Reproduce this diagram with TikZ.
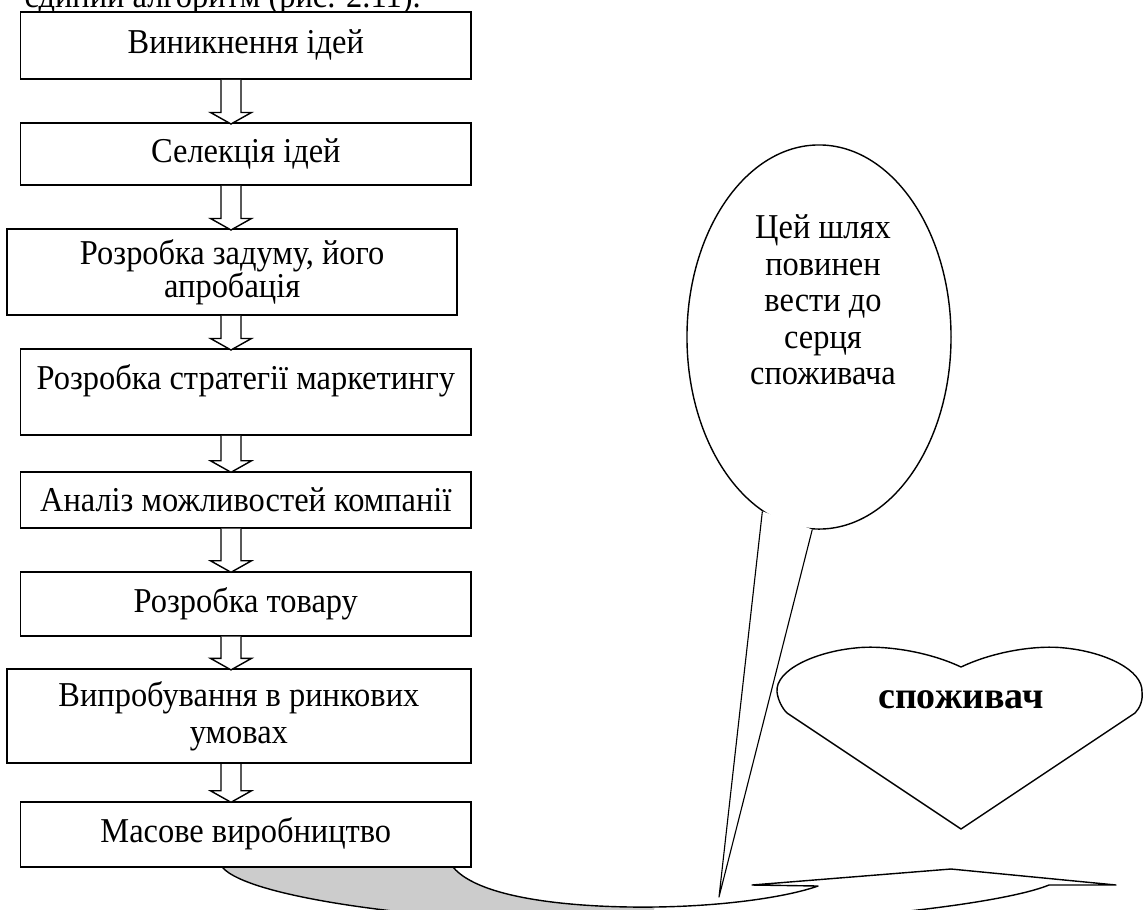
\documentclass[tikz,border=0pt]{standalone}
\usepackage{fontspec}
\setmainfont{Liberation Serif}[FakeStretch=0.93]
\newfontfamily\heartfont{Liberation Serif}
\usetikzlibrary{calc,shapes.geometric}

\begin{document}
\begin{tikzpicture}[x=0.025cm, y=-0.025cm,
      font=\fontsize{24.8}{26.6}\selectfont,
      stage/.style={draw, line width=1.3pt, fill=white, align=center,
                    inner sep=0pt, minimum width=11.26cm},
      blockarrow/.style={draw, fill=white, line width=1pt, to path={
          ($(\tikztostart.south -| ax)+(-10,0)$) -- ($(\tikztotarget.north -| ax)+(-10,-10)$)
          -- ++(-10.5,0) -- ($(\tikztotarget.north -| ax)+(0,1.5)$) -- ++(20.5,-11.5)
          -- ++(-10.5,0) -- ($(\tikztostart.south -| ax)+(10,0)$)}},
      bubble/.style={ellipse, draw, line width=1pt, fill=white, inner sep=0pt,
                     minimum width=6.6cm, minimum height=9.6cm},
      outline/.style={draw, line width=1pt, line join=round}]
    \useasboundingbox (0,0) rectangle (1143,909);
    \clip (0,0) rectangle (1143,909);
    \coordinate (ax) at (231,0);

    % text line above the figure, cut by the page edge
    \node[anchor=base east, inner sep=0pt] (intro) at (421,7) {єдиний алгоритм (рис. 2.11).};

    % curved arrow under the last stage
    \fill[gray!40] (222,867) .. controls (250,900) and (450,925) .. (650,925)
      -- (655,907) .. controls (580,908) and (480,900) .. (453,867) -- cycle;
    \fill[white] (655,907) .. controls (730,906) and (790,896) .. (818,886)
      -- (752,885) -- (951,869) -- (1116,885) -- (1049,885)
      .. controls (1000,905) and (820,925) .. (650,925) -- cycle;
    \draw[outline] (222,867) .. controls (250,900) and (450,925) .. (650,925)
      .. controls (820,925) and (1000,905) .. (1049,885) -- (1116,885)
      -- (951,869) -- (752,885) -- (818,886)
      .. controls (790,896) and (730,906) .. (655,907)
      .. controls (580,908) and (480,900) .. (453,867);

    % stages
    \node[stage, minimum height=1.68cm] (idea) at (245.8,45.3) {Виникнення ідей};
    \node[stage, minimum height=1.54cm] (select) at (245.8,154.2) {Селекція ідей};
    \node[stage, minimum height=2.14cm, minimum width=11.24cm,
          font=\fontsize{24.8}{23.1}\selectfont] (concept) at (232.2,272.2) {Розробка задуму, його\\апробація};
    \node[stage, minimum height=2.14cm, text depth=0.75cm] (strategy) at (245.8,392.2) {Розробка стратегії маркетингу};
    \node[stage, minimum height=1.4cm] (analysis) at (245.8,499.7) {Аналіз можливостей компанії};
    \node[stage, minimum height=1.6cm] (product) at (245.8,603.7) {Розробка товару};
    \node[stage, minimum height=2.35cm, minimum width=11.61cm] (test) at (238.9,716.3) {Випробування в ринкових\\умовах};
    \node[stage, minimum height=1.625cm] (mass) at (245.8,834.2) {Масове виробництво};

    \draw[blockarrow] (idea) to (select);
    \draw[blockarrow] (select) to (concept);
    \draw[blockarrow] (concept) to (strategy);
    \draw[blockarrow] (strategy) to (analysis);
    \draw[blockarrow] (analysis) to (product);
    \draw[blockarrow] (product) to (test);
    \draw[blockarrow] (test) to (mass);

    % speech bubble
    \node[bubble] (bubble) at (819,337) {};
    \coordinate (tailtip) at (719,897);
    \fill[white] (bubble.-108) -- (tailtip) -- (bubble.-92) -- cycle;
    \draw[outline, line width=0.8pt] (bubble.-108) -- (tailtip) -- (bubble.-92);
    \node[align=center, font=\fontsize{24.8}{26}\selectfont] (bubbletxt) at (823,300)
      {Цей шлях\\повинен\\вести до\\серця\\споживача};

    % heart
    \draw[outline] (961,667) .. controls (925,650) and (880,645) .. (855,648)
      .. controls (815,652) and (775,670) .. (777,692)
      .. controls (778,700) and (782,708) .. (787,713) -- (961,829) -- (1135,713)
      .. controls (1140,708) and (1143,700) .. (1142,692)
      .. controls (1143,670) and (1105,652) .. (1065,648)
      .. controls (1040,645) and (997,650) .. (961,667) -- cycle;
    \node[font=\heartfont\fontsize{27}{30}\selectfont\bfseries] (heartlbl) at (961,700) {споживач};
  \end{tikzpicture}
\end{document}
